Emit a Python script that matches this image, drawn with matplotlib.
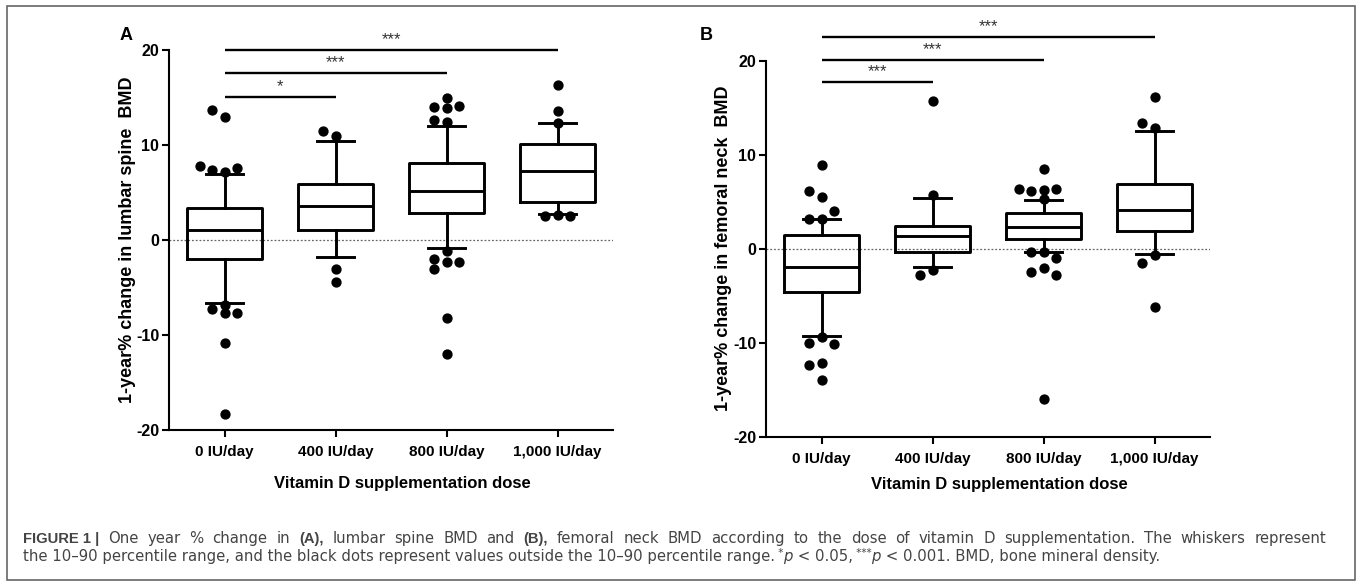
import matplotlib
matplotlib.use("Agg")
import matplotlib.pyplot as plt
from matplotlib.patches import Rectangle

plt.rcParams['font.family'] = ['Liberation Sans', 'DejaVu Sans']
plt.rcParams['axes.unicode_minus'] = False

# --- data ---
doses = ["0 IU/day", "400 IU/day", "800 IU/day", "1,000 IU/day"]

# (A) lumbar spine BMD, 1-year % change
a_q1 = [-2.0, 1.1, 2.8, 4.0]
a_med = [1.1, 3.6, 5.2, 7.3]
a_q3 = [3.4, 5.9, 8.1, 10.1]
a_lo = [-6.6, -1.8, -0.8, 2.7]
a_hi = [6.9, 10.4, 12.0, 12.3]
a_out = [
    [13.0, 13.7, 7.8, 7.4, 7.2, 7.6, -6.8, -7.3, -7.7, -7.7, -10.8, -18.3],
    [11.5, 11.0, -3.0, -4.4],
    [15.0, 14.0, 13.9, 14.1, 12.4, 12.6, -1.2, -2.3, -3.0, -2.3, -2.0, -8.2, -12.0],
    [16.3, 13.6, 12.3, 2.6, 2.5, 2.5],
]
a_sig_to = [1, 2, 3]
a_sig_y = [15.1, 17.6, 20.0]
a_sig_txt = ["*", "***", "***"]

# (B) femoral neck BMD, 1-year % change
b_q1 = [-4.6, -0.3, 1.0, 1.9]
b_med = [-2.0, 1.4, 2.3, 4.1]
b_q3 = [1.5, 2.4, 3.8, 6.9]
b_lo = [-9.3, -1.9, -0.4, -0.6]
b_hi = [3.2, 5.4, 5.2, 12.5]
b_out = [
    [8.9, 5.5, 6.1, 4.0, 3.2, 3.2, -9.4, -10.1, -10.0, -12.2, -12.4, -14.0],
    [15.7, 5.7, -2.8, -2.3],
    [8.5, 6.2, 6.1, 6.3, 6.4, 5.3, -0.4, -1.0, -0.4, -2.5, -2.8, -2.1, -16.0],
    [16.1, 13.4, 12.8, -0.7, -1.5, -6.2],
]
b_sig_to = [1, 2, 3]
b_sig_y = [17.7, 20.1, 22.5]
b_sig_txt = ["***", "***", "***"]


def swarm(values, center, step=0.11, gap=0.85):
    # spread dots sideways so they do not overlap (closest to median first)
    placed = []
    xs = {}
    order = sorted(range(len(values)), key=lambda i: abs(values[i] - center))
    for i in order:
        v = values[i]
        k = 0
        for n in range(12):
            k = 0 if n == 0 else ((n + 1) // 2) * (-1 if n % 2 else 1)
            if all(not (pk == k and abs(pv - v) < gap) for pk, pv in placed):
                break
        placed.append((k, v))
        xs[i] = k * step
    return [xs[i] for i in range(len(values))]


def panel(ax, q1, med, q3, lo, hi, out, sig_to, sig_y, sig_txt, ylabel):
    stats = []
    for i in range(len(doses)):
        stats.append(dict(q1=q1[i], med=med[i], q3=q3[i],
                          whislo=lo[i], whishi=hi[i], fliers=[]))
    pos = list(range(len(doses)))
    lw = 2.1
    ax.axhline(0, color="#666666", lw=0.9, ls=(0, (1.5, 1.5)), zorder=0)
    ax.bxp(stats, positions=pos, widths=0.68, capwidths=0.34,
           showfliers=False, patch_artist=False,
           boxprops=dict(color="black", lw=lw),
           whiskerprops=dict(color="black", lw=lw),
           capprops=dict(color="black", lw=lw),
           medianprops=dict(color="black", lw=lw))
    for i, vals in enumerate(out):
        offs = swarm(vals, med[i])
        ax.plot([pos[i] + o for o in offs], vals, "o", color="black",
                ms=6.4, mec="black", zorder=5)
    for j, y, t in zip(sig_to, sig_y, sig_txt):
        ax.plot([0, j], [y, y], color="black", lw=1.7, clip_on=False,
                solid_capstyle="butt")
        ax.text(j / 2, y + 0.3, t, ha="center", va="bottom", fontsize=12,
                color="#333333", clip_on=False)
    ax.set_xlim(-0.5, 3.5)
    ax.set_ylim(-20, 20)
    ax.set_yticks([-20, -10, 0, 10, 20])
    ax.set_xticks(pos)
    ax.set_xticklabels(doses, fontweight="bold", fontsize=11)
    for lab in ax.get_yticklabels():
        lab.set_fontweight("bold")
        lab.set_fontsize(11.5)
    ax.spines["top"].set_visible(False)
    ax.spines["right"].set_visible(False)
    ax.spines["left"].set_linewidth(1.5)
    ax.spines["bottom"].set_linewidth(1.5)
    ax.tick_params(width=1.5, length=5, pad=2, colors="black")
    ax.tick_params(axis="x", pad=6)
    ax.set_ylabel(ylabel, fontweight="bold", fontsize=13)
    ax.set_xlabel("Vitamin D supplementation dose", fontweight="bold", fontsize=12)


W, H = 1357, 585
fig = plt.figure(figsize=(W / 100, H / 100), dpi=100)
bg = fig.add_axes([0, 0, 1, 1])
bg.set_xlim(0, W)
bg.set_ylim(H, 0)
bg.axis("off")
bg.add_patch(Rectangle((7, 6), 1348, 574, fill=False, ec="#666666", lw=1.2))

axA = fig.add_axes([169 / W, 1 - 430 / H, 444 / W, 380 / H])
panel(axA, a_q1, a_med, a_q3, a_lo, a_hi, a_out, a_sig_to, a_sig_y, a_sig_txt,
      "1-year% change in lumbar spine  BMD")
axA.yaxis.set_label_coords(-0.074, 0.5)
axA.xaxis.set_label_coords(0.525, -0.12)
axB = fig.add_axes([766 / W, 1 - 436.7 / H, 444 / W, 376 / H])
panel(axB, b_q1, b_med, b_q3, b_lo, b_hi, b_out, b_sig_to, b_sig_y, b_sig_txt,
      "1-year% change in femoral neck  BMD")
axB.yaxis.set_label_coords(-0.076, 0.5)
axB.xaxis.set_label_coords(0.525, -0.106)

bg.text(126, 35, "A", fontsize=13, fontweight="bold", ha="center", va="center")
bg.text(706, 35, "B", fontsize=13, fontweight="bold", ha="center", va="center")

# caption: first line justified, second line set naturally
cap_color = "#444444"
renderer = fig.canvas.get_renderer()


def cap_text(x, y, s, wgt="normal", sty="normal", sup=False):
    if wgt == "bold":
        fam, size = "Liberation Sans", 10.6
    else:
        fam, size = "DejaVu Sans", 10.7
    if sup:
        size *= 0.7
        y -= 5
    return bg.text(x, y, s, fontsize=size, family=fam, fontweight=wgt,
                   fontstyle=sty, color=cap_color, ha="left", va="baseline")


line1 = [("FIGURE 1 |", "bold"),
         ("One year % change in", "normal"),
         ("(A),", "bold"),
         ("lumbar spine BMD and", "normal"),
         ("(B),", "bold"),
         ("femoral neck BMD according to the dose of vitamin D supplementation. "
          "The whiskers represent", "normal")]
words = []
for s, wgt in line1:
    if wgt == "bold":
        words.append((s, wgt))
    else:
        words.extend((w, wgt) for w in s.split(" "))
arts = [cap_text(0, 543, w, wgt) for w, wgt in words]
widths = [a.get_window_extent(renderer).width for a in arts]
x0, x1 = 23, 1326
gap = (x1 - x0 - sum(widths)) / (len(words) - 1)
x = x0
for a, wd in zip(arts, widths):
    a.set_x(x)
    x += wd + gap

line2 = [("the 10\u201390 percentile range, and the black dots represent values "
          "outside the 10\u201390 percentile range.", "normal", False),
         (" *", "normal", True),
         ("p", "italic", False),
         (" < 0.05,", "normal", False),
         (" ***", "normal", True),
         ("p", "italic", False),
         (" < 0.001. BMD, bone mineral density.", "normal", False)]
x = 23
for s, sty, sup in line2:
    t = cap_text(x, 561, s, sty=sty, sup=sup)
    x += t.get_window_extent(renderer).width

fig.savefig("out.png", dpi=100)
